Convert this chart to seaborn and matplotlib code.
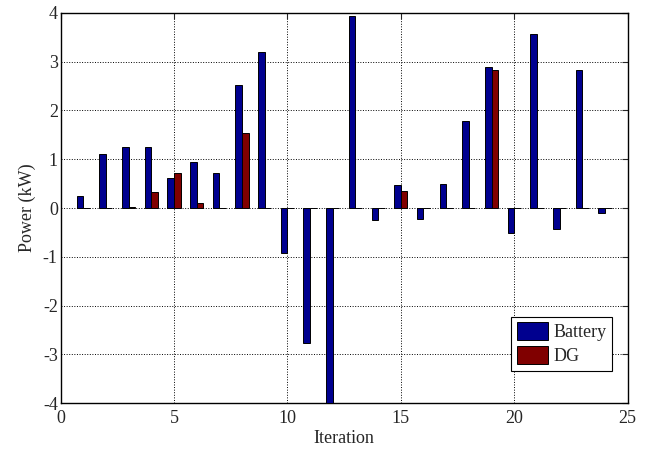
import numpy as np
import pandas as pd
import matplotlib
matplotlib.use("Agg")
import matplotlib.pyplot as plt
import seaborn as sns

# Power dispatched per iteration (kW)
iterations = list(range(1, 25))
battery = [0.25, 1.10, 1.26, 1.25, 0.61, 0.94, 0.72, 2.53, 3.21, -0.93, -2.77, -4.00,
           3.94, -0.24, 0.48, -0.22, 0.49, 1.78, 2.89, -0.51, 3.57, -0.44, 2.84, -0.10]
dg = [0.0, 0.0, 0.02, 0.33, 0.72, 0.11, 0.0, 1.53, 0.0, 0.0, 0.0, 0.0,
      0.0, 0.0, 0.34, 0.0, 0.0, 0.0, 2.84, 0.0, 0.0, 0.0, 0.0, 0.0]
series_names = ["Battery", "DG"]
series_colors = ["#00008F", "#800000"]

df = pd.DataFrame({
    "Iteration": iterations * 2,
    "Power": battery + dg,
    "Source": [series_names[0]] * len(iterations) + [series_names[1]] * len(iterations),
})

sns.set_style("white")
plt.rcParams["font.family"] = ["Liberation Serif", "DejaVu Serif"]
plt.rcParams["font.size"] = 13
plt.rcParams["axes.unicode_minus"] = False

fig = plt.figure(figsize=(6.53, 4.51), dpi=100)
ax = fig.add_axes([0.0927, 0.1064, 0.8685, 0.8648])

sns.barplot(data=df, x="Iteration", y="Power", hue="Source", native_scale=True,
            width=0.58, palette=series_colors, edgecolor="black", linewidth=0.7,
            errorbar=None, saturation=1, ax=ax, zorder=3)

ax.set_xlim(0, 25)
ax.set_ylim(-4, 4)
ax.set_xticks(np.arange(0, 26, 5))
ax.set_yticks(np.arange(-4, 5, 1))
ax.set_xlabel("Iteration", fontsize=13, labelpad=2)
ax.set_ylabel("Power (kW)", fontsize=13, labelpad=5)
ax.grid(True, linestyle=":", color="black", linewidth=0.7, zorder=0)
ax.set_axisbelow(True)
ax.tick_params(direction="in", top=True, right=True, length=4, width=0.8,
               labelsize=13)
ax.tick_params(axis="x", pad=5)
ax.tick_params(axis="y", pad=2)
for s in ax.spines.values():
    s.set_visible(True)
    s.set_color("black")
    s.set_linewidth(1.0)

leg = ax.legend(loc="lower right", bbox_to_anchor=(0.973, 0.083), borderaxespad=0,
                fancybox=False, framealpha=1, edgecolor="black", fontsize=13,
                handlelength=1.75, handleheight=1.1, handletextpad=0.3,
                labelspacing=0.3, borderpad=0.3, title=None)
leg.get_frame().set_linewidth(0.8)

fig.savefig("out.png", dpi=100)
